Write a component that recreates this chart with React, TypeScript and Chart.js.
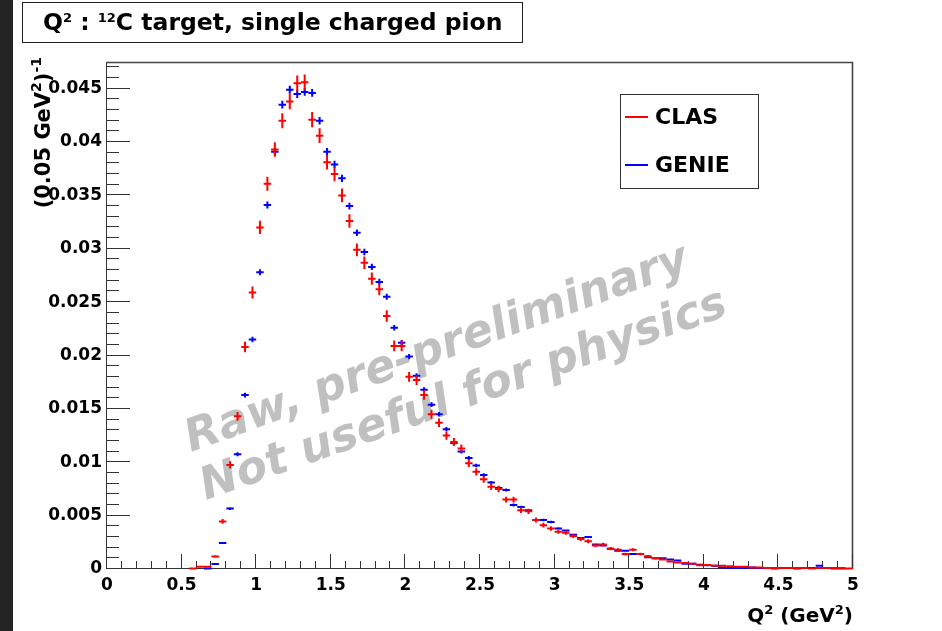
import React, { useEffect, useRef } from "react";
import { Chart, registerables } from "chart.js";

Chart.register(...registerables);

// ---------- data ----------
const BIN_WIDTH = 0.05;
const FIRST_BIN_CENTER = 0.575;
const X_MIN = 0;
const X_MAX = 5;
const Y_MIN = 0;
const Y_MAX = 0.0475;
const X_MAJOR_STEP = 0.5;
const Y_MAJOR_STEP = 0.005;

const seriesLabels = ["CLAS", "GENIE"];
const seriesColors = ["#ff0000", "#0000ff"];

// CLAS (red), bins of 0.05 GeV^2 starting at centre 0.575
const clasValues = [
  0.00005, 0.0002, 0.0002, 0.00118, 0.00446, 0.00975, 0.0143, 0.0208, 0.0259,
  0.032, 0.0361, 0.0393, 0.042, 0.0438, 0.0455, 0.0456, 0.0421, 0.0406, 0.0381,
  0.037, 0.035, 0.0326, 0.0299, 0.0287, 0.0272, 0.0262, 0.0237, 0.0209, 0.0209,
  0.018, 0.0177, 0.0163, 0.0145, 0.0137, 0.0125, 0.0119, 0.0113, 0.0099, 0.0091,
  0.0084, 0.0077, 0.0075, 0.0065, 0.0065, 0.0055, 0.0054, 0.0046, 0.0041, 0.0038,
  0.0035, 0.0034, 0.0031, 0.0028, 0.0026, 0.0022, 0.0023, 0.0019, 0.0018, 0.0014,
  0.0018, 0.0014, 0.0012, 0.001, 0.0009, 0.0007, 0.0006, 0.00056, 0.0005, 0.00035,
  0.00038, 0.0003, 0.0003, 0.00025, 0.0002, 0.0002, 0.00015, 0.00015, 0.0001, 0.0001,
  0.0001, 0.0001, 0.0001, 0.0001, 0.00005, 0.0001, 0.0001, 0.0001, 0.0001, 0.00005,
];

// GENIE (blue)
const genieValues = [
  0, 0, 0.00005, 0.00047, 0.00244, 0.00566, 0.01075, 0.0163, 0.0215,
  0.0278, 0.0341, 0.0391, 0.0435, 0.0449, 0.0445, 0.0447, 0.0446, 0.042, 0.0391,
  0.0379, 0.0366, 0.034, 0.0315, 0.0297, 0.0283, 0.0269, 0.0255, 0.0226, 0.0212,
  0.0199, 0.0181, 0.0168, 0.0154, 0.0145, 0.0131, 0.0118, 0.011, 0.0104, 0.0097,
  0.0088, 0.0081, 0.0076, 0.0074, 0.006, 0.0058, 0.0055, 0.0046, 0.0046, 0.0044,
  0.0038, 0.0036, 0.0032, 0.0029, 0.003, 0.0023, 0.0022, 0.0019, 0.0017, 0.0017,
  0.0014, 0.0014, 0.0011, 0.001, 0.001, 0.0009, 0.0008, 0.0005, 0.0005, 0.0004,
  0.00035, 0.0003, 0.00015, 0.0001, 0.0001, 0.0001, 0.00015, 0.0001, 0.0001, 0.00005,
  0.0001, 0.0001, 0.00005, 0.0001, 0.0001, 0.0003, 0.0001, 0.00005, 0.00005, 0,
];

// statistical error scale: err = sqrt(value * k)
const CLAS_ERR_K = 1.2e-5;
const GENIE_ERR_K = 3e-6;

type Part = { t: string; sup?: boolean };
const titleParts: Part[] = [
  { t: "Q" }, { t: "2", sup: true }, { t: " : " }, { t: "12", sup: true },
  { t: "C target, single charged pion" },
];
const yTitleParts: Part[] = [
  { t: "(0.05 GeV" }, { t: "2", sup: true }, { t: ")" }, { t: "-1", sup: true },
];
const xTitleParts: Part[] = [
  { t: "Q" }, { t: "2", sup: true }, { t: " (GeV" }, { t: "2", sup: true }, { t: ")" },
];
const watermarkLines = ["Raw, pre-preliminary", "Not useful for physics"];

// ---------- helpers ----------
const FAMILY = '"DejaVu Sans", "Liberation Sans", Arial, sans-serif';

function richWidth(ctx: CanvasRenderingContext2D, parts: Part[], size: number, supSize: number) {
  let w = 0;
  for (const p of parts) {
    ctx.font = `bold ${p.sup ? supSize : size}px ${FAMILY}`;
    w += ctx.measureText(p.t).width;
  }
  return w;
}

function drawRich(
  ctx: CanvasRenderingContext2D, parts: Part[], x: number, y: number,
  size: number, supSize: number, raise: number
) {
  let cx = x;
  ctx.textBaseline = "alphabetic";
  ctx.textAlign = "left";
  for (const p of parts) {
    ctx.font = `bold ${p.sup ? supSize : size}px ${FAMILY}`;
    ctx.fillText(p.t, cx, p.sup ? y - raise : y);
    cx += ctx.measureText(p.t).width;
  }
}

const fmt = (v: number) => String(+Number(v).toFixed(4));

const binCenters = clasValues.map((_, i) => +(FIRST_BIN_CENTER + i * BIN_WIDTH).toFixed(3));
const toPoints = (vals: number[]) => vals.map((v, i) => ({ x: binCenters[i], y: v }));

const rootPlugin = {
  id: "rootStyle",
  beforeDraw(chart: any) {
    const ctx: CanvasRenderingContext2D = chart.ctx;
    ctx.save();
    ctx.fillStyle = "#ffffff";
    ctx.fillRect(0, 0, chart.width, chart.height);
    ctx.fillStyle = "#242424";
    ctx.fillRect(0, 0, 13, chart.height);
    // title box
    ctx.strokeStyle = "#222";
    ctx.lineWidth = 1;
    ctx.strokeRect(22.5, 2.5, 500, 40);
    ctx.fillStyle = "#000";
    drawRich(ctx, titleParts, 43, 30, 23.5, 13, 8);
    ctx.restore();
  },
  beforeDatasetsDraw(chart: any) {
    const ctx: CanvasRenderingContext2D = chart.ctx;
    const xs = chart.scales.x;
    const ys = chart.scales.y;
    const a = chart.chartArea;

    // watermark
    ctx.save();
    ctx.fillStyle = "#c0c0c0";
    ctx.font = `italic bold 45px ${FAMILY}`;
    ctx.textBaseline = "alphabetic";
    ctx.textAlign = "left";
    const anchors = [[191, 452], [206, 500]];
    const angles = [-20, -19.5];
    watermarkLines.forEach((line, i) => {
      ctx.save();
      ctx.translate(anchors[i][0], anchors[i][1]);
      ctx.rotate((angles[i] * Math.PI) / 180);
      ctx.fillText(line, 0, 0);
      ctx.restore();
    });
    ctx.restore();

    // frame
    ctx.save();
    ctx.strokeStyle = "#333";
    ctx.lineWidth = 1;
    ctx.beginPath();
    ctx.moveTo(Math.round(a.left) - 0.5, Math.round(a.top));
    ctx.lineTo(Math.round(a.left) - 0.5, Math.round(a.bottom) - 0.5);
    ctx.lineTo(Math.round(a.right), Math.round(a.bottom) - 0.5);
    ctx.stroke();
    ctx.lineWidth = 1.6;
    ctx.strokeStyle = "#444";
    ctx.beginPath();
    ctx.moveTo(Math.round(a.left) - 1, Math.round(a.top) + 0.5);
    ctx.lineTo(Math.round(a.right) - 0.5, Math.round(a.top) + 0.5);
    ctx.lineTo(Math.round(a.right) - 0.5, Math.round(a.bottom));
    ctx.stroke();

    // inner ticks
    ctx.lineWidth = 1;
    ctx.strokeStyle = "#333";
    ctx.beginPath();
    for (let i = 0; i <= 50; i++) {
      const v = i * (X_MAJOR_STEP / 5);
      if (v > X_MAX + 1e-9) break;
      const px = Math.round(xs.getPixelForValue(v)) - 0.5;
      const len = i % 5 === 0 ? 15 : 8;
      ctx.moveTo(px, a.bottom);
      ctx.lineTo(px, a.bottom - len);
    }
    for (let i = 0; i <= 60; i++) {
      const v = i * (Y_MAJOR_STEP / 5);
      if (v > Y_MAX + 1e-9) break;
      const py = Math.round(ys.getPixelForValue(v)) - 0.5;
      const len = i % 5 === 0 ? 23 : 12;
      ctx.moveTo(a.left, py);
      ctx.lineTo(a.left + len, py);
    }
    ctx.stroke();
    ctx.restore();
  },
  afterDatasetsDraw(chart: any) {
    const ctx: CanvasRenderingContext2D = chart.ctx;
    const xs = chart.scales.x;
    const ys = chart.scales.y;
    const a = chart.chartArea;

    // histogram points with error bars
    ctx.save();
    ctx.beginPath();
    ctx.rect(a.left, a.top, a.right - a.left, a.bottom - a.top + 1);
    ctx.clip();
    chart.data.datasets.forEach((ds: any) => {
      ctx.strokeStyle = ds.borderColor;
      ctx.lineWidth = 2;
      ds.data.forEach((p: any) => {
        if (!(p.y > 0)) return;
        const e = Math.sqrt(p.y * ds.errK);
        const x0 = xs.getPixelForValue(p.x - BIN_WIDTH / 2);
        const x1 = xs.getPixelForValue(p.x + BIN_WIDTH / 2);
        const xc = xs.getPixelForValue(p.x);
        const yc = ys.getPixelForValue(p.y);
        const yt = ys.getPixelForValue(p.y + e);
        const yb = ys.getPixelForValue(p.y - e);
        ctx.beginPath();
        ctx.moveTo(x0, yc);
        ctx.lineTo(x1, yc);
        ctx.moveTo(xc, yt);
        ctx.lineTo(xc, yb);
        ctx.stroke();
      });
    });
    ctx.restore();

    // legend
    ctx.save();
    ctx.strokeStyle = "#333";
    ctx.lineWidth = 1;
    ctx.strokeRect(620.5, 94.5, 138, 94);
    const legendRows = [117, 165];
    seriesLabels.forEach((lab, i) => {
      ctx.strokeStyle = seriesColors[i];
      ctx.lineWidth = 2;
      ctx.beginPath();
      ctx.moveTo(625, legendRows[i]);
      ctx.lineTo(648, legendRows[i]);
      ctx.stroke();
      ctx.fillStyle = "#000";
      ctx.font = `bold 22px ${FAMILY}`;
      ctx.textBaseline = "middle";
      ctx.textAlign = "left";
      ctx.fillText(lab, 655, legendRows[i] + 1);
    });
    ctx.restore();

    // axis titles
    ctx.save();
    ctx.fillStyle = "#000";
    const xw = richWidth(ctx, xTitleParts, 20, 13);
    drawRich(ctx, xTitleParts, a.right - xw, 622, 20, 13, 8);
    const yw = richWidth(ctx, yTitleParts, 21, 14);
    ctx.translate(50, 57 + yw);
    ctx.rotate(-Math.PI / 2);
    drawRich(ctx, yTitleParts, 0, 0, 21, 14, 9);
    ctx.restore();
  },
};

export default function App() {
  const ref = useRef<HTMLCanvasElement>(null);
  useEffect(() => {
    if (!ref.current) return;
    const chart = new Chart(ref.current, {
      type: "scatter",
      data: {
        datasets: [
          {
            label: seriesLabels[1],
            data: toPoints(genieValues),
            borderColor: seriesColors[1],
            backgroundColor: seriesColors[1],
            pointRadius: 0,
            showLine: false,
            errK: GENIE_ERR_K,
          } as any,
          {
            label: seriesLabels[0],
            data: toPoints(clasValues),
            borderColor: seriesColors[0],
            backgroundColor: seriesColors[0],
            pointRadius: 0,
            showLine: false,
            errK: CLAS_ERR_K,
          } as any,
        ],
      },
      options: {
        responsive: false,
        animation: false,
        devicePixelRatio: 1,
        events: [],
        layout: { padding: { top: 62, right: 89, left: 0, bottom: 0 } },
        plugins: {
          legend: { display: false },
          tooltip: { enabled: false },
          title: { display: false },
        },
        scales: {
          x: {
            type: "linear",
            position: "bottom",
            min: X_MIN,
            max: X_MAX,
            grid: { display: false, drawTicks: false },
            border: { display: false },
            ticks: {
              stepSize: X_MAJOR_STEP,
              includeBounds: false,
              autoSkip: false,
              maxRotation: 0,
              padding: 6,
              color: "#000",
              font: { family: FAMILY, size: 17, weight: "bold" },
              callback: (v: any) => fmt(v),
            },
            afterFit: (s: any) => { s.height = 62; },
          },
          y: {
            type: "linear",
            min: Y_MIN,
            max: Y_MAX,
            grid: { display: false, drawTicks: false },
            border: { display: false },
            ticks: {
              stepSize: Y_MAJOR_STEP,
              includeBounds: false,
              autoSkip: false,
              padding: 5,
              color: "#000",
              font: { family: FAMILY, size: 17, weight: "bold" },
              callback: (v: any) => fmt(v),
            },
            afterFit: (s: any) => { s.width = 107; },
          },
        },
      } as any,
      plugins: [rootPlugin],
    });
    return () => chart.destroy();
  }, []);
  return (
    <div style={{ position: "absolute", left: 0, top: 0, width: 942, height: 631, background: "#fff" }}>
      <canvas ref={ref} width={942} height={631} style={{ display: "block" }} />
    </div>
  );
}
